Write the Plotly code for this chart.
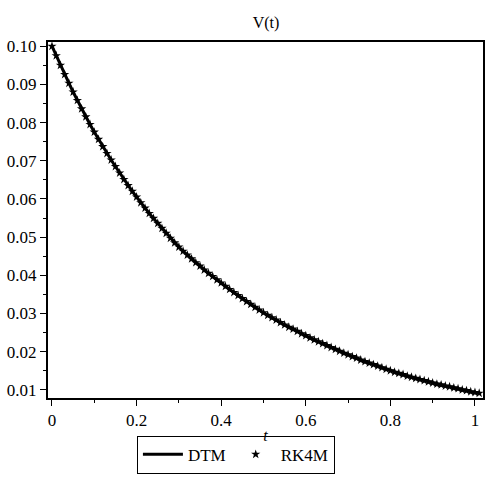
import plotly.graph_objects as go

t = [round(i * 0.01, 2) for i in range(102)]
V = [0.1000, 0.0975, 0.0950, 0.0926, 0.0903, 0.0880, 0.0858, 0.0836, 0.0815, 0.0795,
     0.0775, 0.0756, 0.0737, 0.0719, 0.0702, 0.0685, 0.0668, 0.0651, 0.0635, 0.0620,
     0.0605, 0.0590, 0.0576, 0.0562, 0.0549, 0.0536, 0.0523, 0.0510, 0.0497, 0.0485,
     0.0474, 0.0463, 0.0453, 0.0443, 0.0433, 0.0424, 0.0414, 0.0405, 0.0397, 0.0388,
     0.0380, 0.0371, 0.0363, 0.0355, 0.0347, 0.0339, 0.0331, 0.0324, 0.0316, 0.0309,
     0.0302, 0.0295, 0.0289, 0.0283, 0.0276, 0.0270, 0.0264, 0.0259, 0.0253, 0.0247,
     0.0242, 0.0236, 0.0231, 0.0226, 0.0221, 0.0216, 0.0211, 0.0206, 0.0201, 0.0196,
     0.0192, 0.0187, 0.0183, 0.0178, 0.0174, 0.0170, 0.0166, 0.0162, 0.0158, 0.0154,
     0.0150, 0.0146, 0.0143, 0.0140, 0.0136, 0.0133, 0.0130, 0.0127, 0.0124, 0.0121,
     0.0118, 0.0115, 0.0113, 0.0110, 0.0108, 0.0105, 0.0103, 0.0100, 0.0098, 0.0095,
     0.0093, 0.0091]

xticks = [0, 0.2, 0.4, 0.6, 0.8, 1]
xticklabels = ["0", "0.2", "0.4", "0.6", "0.8", "1"]
yticks = [0.01, 0.02, 0.03, 0.04, 0.05, 0.06, 0.07, 0.08, 0.09, 0.10]
yticklabels = ["0.01", "0.02", "0.03", "0.04", "0.05", "0.06", "0.07", "0.08", "0.09", "0.10"]

font = "'Times New Roman', 'Liberation Serif', 'DejaVu Serif', serif"

fig = go.Figure()
fig.add_trace(go.Scatter(x=t, y=V, mode="lines", name="DTM",
                         line=dict(color="black", width=3)))
fig.add_trace(go.Scatter(x=t, y=V, mode="markers", name="RK4M",
                         marker=dict(symbol="star", size=7, color="black")))

fig.update_layout(
    width=491, height=480,
    margin=dict(l=48, r=6, t=42, b=79),
    paper_bgcolor="white", plot_bgcolor="white",
    font=dict(family=font, size=17, color="black"),
    title=dict(text="V(t)", x=(266 / 491), xanchor="center", y=1 - 22 / 480, yanchor="middle",
               font=dict(family=font, size=16, color="black")),
    showlegend=True,
    legend=dict(orientation="h", x=0.432, xanchor="center", y=-0.106, yanchor="top",
                bordercolor="black", borderwidth=1, bgcolor="white",
                font=dict(family=font, size=17, color="black"),
                itemwidth=40, tracegroupgap=0),
    xaxis=dict(range=[-0.0094, 1.019], tickvals=xticks, ticktext=xticklabels,
               ticks="outside", ticklen=6, tickwidth=1, tickcolor="black",
               minor=dict(dtick=0.1, tick0=0, ticks="outside", ticklen=3, tickcolor="black"),
               showline=True, linecolor="black", linewidth=2, mirror=True,
               showgrid=False, zeroline=False,
               tickfont=dict(family=font, size=17),
               title=dict(text="<i>t</i>", standoff=0, font=dict(family=font, size=16))),
    yaxis=dict(range=[0.00785, 0.1011], tickvals=yticks, ticktext=yticklabels,
               ticks="outside", ticklen=6, tickwidth=1, tickcolor="black",
               minor=dict(dtick=0.005, tick0=0, ticks="outside", ticklen=3, tickcolor="black"),
               showline=True, linecolor="black", linewidth=2, mirror=True,
               showgrid=False, zeroline=False,
               tickfont=dict(family=font, size=17)),
)

fig.write_html("out.html")
